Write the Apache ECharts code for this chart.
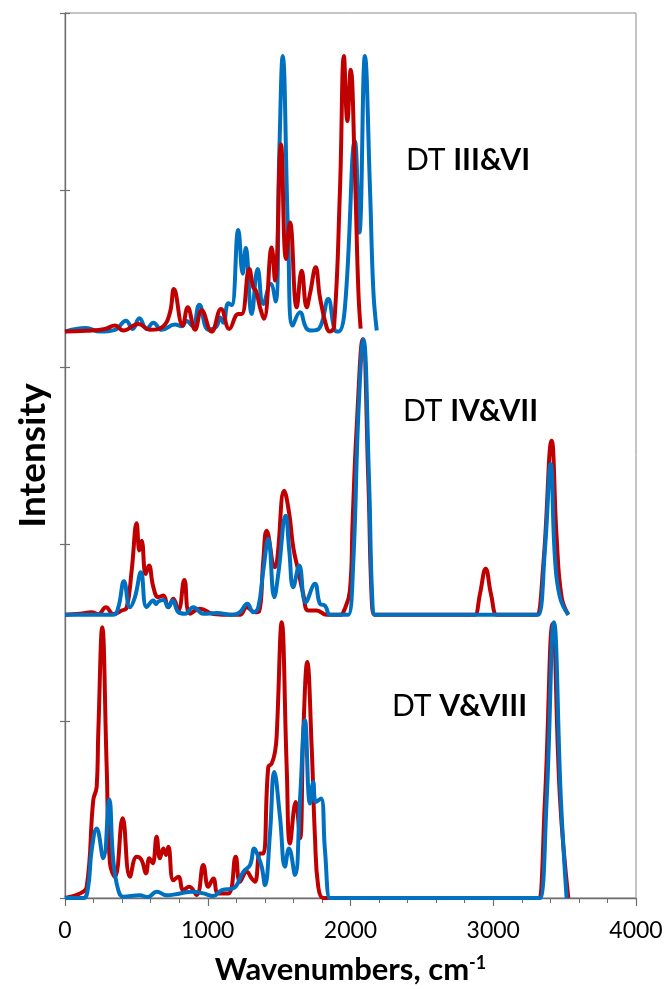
<!DOCTYPE html>
<html>
<head>
<meta charset="utf-8">
<script src="https://cdn.jsdelivr.net/npm/echarts@6/dist/echarts.min.js"></script>
<style>
  html, body { margin: 0; padding: 0; background: #fff; }
  #chart { width: 666px; height: 989px; }
</style>
</head>
<body>
<div id="chart"></div>
<script>
// Simulated IR spectra: [wavenumber (cm-1), relative intensity] for each pair of structures.
// Each pair is drawn on its own baseline, stacked by the offsets below.
const stackOffsets = { bottom: 0, middle: 1.6, top: 3.2 };
const xTicks = [0, 1000, 2000, 3000, 4000];
const pairLabels = [
  { plain: 'DT ', bold: 'III&VI' },
  { plain: 'DT ', bold: 'IV&VII' },
  { plain: 'DT ', bold: 'V&VIII' }
];

const topRed = [
  [0,0],[150,0.005],[280,0.015],[350,0.034],[409,0.006],[514,0.043],[595,0.01],[689,0.03],[736,0.11],
  [763,0.24],[824,0.034],[860,0.137],[911,0.011],[957,0.12],[1027,0],[1093,0.128],[1151,0.015],
  [1214,0.1],[1238,0.1],[1291,0.353],[1319,0.25],[1338,0.23],[1366,0.137],[1394,0.072],[1448,0.475],
  [1471,0.288],[1513,1.059],[1548,0.41],[1576,0.617],[1623,0.137],[1658,0.344],[1693,0.137],[1716,0.213],
  [1756,0.363],[1786,0.193],[1833,0.024],[1856,0],[1885,0.03],[1926,0.795],[1954,1.557],[1978,1.19],
  [2001,1.48],[2031,0.889],[2055,0.231],[2071,0.017]
];
const topBlue = [
  [0,0],[147,0.02],[245,0],[350,0.01],[427,0.062],[474,0.015],[521,0.075],[572,0.015],[619,0.05],
  [677,0.01],[771,0.04],[817,0.03],[852,0.06],[894,0.03],[941,0.152],[1004,0.011],[1062,0.03],
  [1086,0.08],[1109,0.05],[1144,0.16],[1168,0.15],[1214,0.574],[1245,0.327],[1266,0.472],[1308,0.1],
  [1350,0.354],[1389,0.156],[1441,0.27],[1475,0.17],[1501,1.0],[1525,1.557],[1564,0.513],[1595,0.034],
  [1646,0.109],[1690,0.02],[1728,0.006],[1786,0.024],[1844,0.184],[1891,0.006],[1915,0],[1961,0.137],
  [2031,1.077],[2062,0.56],[2101,1.557],[2137,0.795],[2160,0.231],[2184,0.006]
];

const middleRed = [
  [0,0],[105,0.006],[187,0.015],[233,0.003],[287,0.043],[338,0.004],[397,0.024],[432,0.04],[467,0.25],
  [502,0.517],[521,0.363],[537,0.419],[565,0.231],[588,0.278],[619,0.156],[654,0.1],[689,0.109],
  [724,0.043],[759,0.09],[794,0.024],[836,0.197],[876,0.006],[946,0.034],[1039,0.005],[1179,0],
  [1226,0],[1273,0.043],[1331,0.015],[1360,0.02],[1389,0.306],[1413,0.475],[1471,0.268],[1487,0.316],
  [1536,0.701],[1571,0.57],[1599,0.381],[1634,0.25],[1669,0.118],[1704,0.024],[1763,0.024],[1833,0],
  [1926,0],[1950,0.015],[1996,0.137],[2015,0.532],[2042,1.04],[2085,1.557],[2125,0.757],[2148,0.1],
  [2168,0],[2190,0],[2850,0],[2872,0],[2907,0.118],[2947,0.26],[2984,0.118],[3024,0],[3050,0],
  [3280,0],[3304,0],[3351,0.288],[3409,0.983],[3444,0.438],[3479,0.1],[3526,0]
];
const middleBlue = [
  [0,0],[338,0],[373,0.04],[413,0.19],[455,0.043],[490,0.1],[532,0.24],[572,0.043],[619,0.081],
  [637,0.06],[654,0.075],[689,0.083],[724,0.043],[754,0.081],[794,0.015],[841,0.006],[899,0.043],
  [969,0.006],[1062,0.01],[1179,0],[1226,0.015],[1277,0.062],[1319,0.015],[1354,0.043],[1389,0.25],
  [1424,0.429],[1466,0.1],[1494,0.231],[1546,0.56],[1571,0.363],[1599,0.156],[1641,0.278],[1686,0.071],
  [1751,0.175],[1786,0.062],[1821,0.052],[1856,0],[1880,0],[1960,0],[1985,0],[2019,0.288],[2055,1.134],
  [2090,1.557],[2130,0.757],[2152,0.1],[2172,0],[2195,0],[3290,0],[3316,0],[3363,0.381],[3402,0.852],
  [3432,0.325],[3467,0.1],[3526,0]
];

const bottomRed = [
  [0,0],[105,0.026],[152,0.064],[198,0.553],[222,0.628],[233,0.929],[261,1.53],[292,0.74],[315,0.196],
  [350,0.12],[404,0.45],[455,0.12],[502,0.233],[537,0.214],[567,0.139],[591,0.224],[614,0.196],
  [642,0.346],[665,0.224],[689,0.28],[708,0.243],[724,0.289],[759,0.1],[794,0.12],[829,0.045],
  [871,0.064],[922,0.017],[969,0.186],[1004,0.064],[1039,0.11],[1074,0.026],[1144,0.026],[1196,0.233],
  [1226,0.092],[1273,0.148],[1308,0.11],[1331,0.092],[1366,0.252],[1389,0.252],[1424,0.74],[1448,0.76],
  [1471,0.825],[1483,0.919],[1518,1.558],[1553,0.74],[1576,0.308],[1616,0.543],[1646,0.337],[1669,0.929],
  [1697,1.333],[1728,0.853],[1751,0.346],[1774,0.064],[1809,0],[1830,0],[3290,0],[3316,0],[3362,0.553],
  [3416,1.549],[3468,0.553],[3526,0]
];
const bottomBlue = [
  [0,0],[128,0],[160,0.05],[187,0.271],[222,0.393],[268,0.224],[310,0.557],[338,0.214],[373,0.045],
  [408,0.007],[525,0.015],[580,0.005],[642,0.036],[712,0.015],[806,0.026],[887,0.036],[969,0.026],
  [1039,0.011],[1098,0.045],[1179,0.055],[1249,0.148],[1296,0.186],[1326,0.28],[1354,0.233],[1378,0.177],
  [1401,0.073],[1436,0.365],[1466,0.712],[1506,0.459],[1541,0.177],[1569,0.28],[1611,0.13],[1646,0.553],
  [1681,1.004],[1716,0.534],[1739,0.656],[1758,0.543],[1793,0.562],[1821,0.271],[1856,0],[1880,0],
  [3300,0],[3327,0],[3374,0.553],[3425,1.558],[3474,0.553],[3514,0]
];

const RED = '#C00000';
const BLUE = '#0070C0';
const AXIS = '#6e6e6e';
const FONT = 'Lato, "Open Sans", sans-serif';

function spectrum(name, points, offset, color) {
  return {
    name: name,
    type: 'line',
    data: points.map(p => [p[0], p[1] + offset]),
    showSymbol: false,
    smooth: 0.45,
    lineStyle: { color: color, width: 4 },
    emphasis: { disabled: true },
    silent: true
  };
}

const chart = echarts.init(document.getElementById('chart'), null, { renderer: 'canvas' });

// label anchor positions (pixels) for the three pair captions
const captionAnchors = [[406, 160], [403, 411], [392, 706]];

chart.setOption({
  animation: false,
  grid: {
    left: 65, right: 30, top: 13, bottom: 91,
    outerBoundsMode: 'none',
    show: true, borderColor: '#8a8a8a', borderWidth: 1, backgroundColor: 'transparent'
  },
  xAxis: {
    type: 'value', min: xTicks[0], max: xTicks[xTicks.length - 1], interval: xTicks[1] - xTicks[0],
    axisLine: { show: true, lineStyle: { color: AXIS, width: 1.3 } },
    axisTick: { show: true, length: 8, lineStyle: { color: AXIS, width: 1.2 } },
    minorTick: { show: true, splitNumber: 5, length: 5, lineStyle: { color: AXIS, width: 1 } },
    splitLine: { show: false },
    axisLabel: { fontFamily: FONT, fontSize: 23, color: '#000', margin: 21, formatter: v => String(v) },
    name: '{t|Wavenumbers, cm}{s|-1}',
    nameLocation: 'middle',
    nameGap: 56,
    nameTextStyle: {
      rich: {
        t: { fontFamily: FONT, fontSize: 31, fontWeight: 'bold', color: '#000' },
        s: { fontFamily: FONT, fontSize: 18, fontWeight: 'bold', color: '#000', verticalAlign: 'top' }
      }
    }
  },
  yAxis: [
    {
      type: 'value', min: 0, max: 5, interval: 1,
      axisLine: { show: true, lineStyle: { color: AXIS, width: 1.3 } },
      axisTick: { show: true, length: 5, lineStyle: { color: AXIS, width: 1.2 } },
      axisLabel: { show: false },
      splitLine: { show: false },
      name: 'Intensity',
      nameLocation: 'middle',
      nameGap: 13,
      nameTextStyle: { fontFamily: FONT, fontSize: 37, fontWeight: 'bold', color: '#000' }
    },
    {
      type: 'value', min: 0, max: 5, interval: 1, position: 'left',
      axisLine: { show: false },
      axisTick: { show: true, inside: true, length: 5, lineStyle: { color: AXIS, width: 1.2 } },
      axisLabel: { show: false },
      splitLine: { show: false }
    }
  ],
  graphic: pairLabels.map((lab, i) => ({
    type: 'text',
    x: captionAnchors[i][0],
    y: captionAnchors[i][1],
    silent: true,
    style: {
      text: '{r|' + lab.plain + '}{b|' + lab.bold + '}',
      align: 'left',
      verticalAlign: 'middle',
      rich: {
        r: { fontFamily: FONT, fontSize: 30, color: '#000' },
        b: { fontFamily: FONT, fontSize: 30, fontWeight: 'bold', color: '#000' }
      }
    }
  })),
  series: [
    spectrum('V&VIII red', bottomRed, stackOffsets.bottom, RED),
    spectrum('V&VIII blue', bottomBlue, stackOffsets.bottom, BLUE),
    spectrum('IV&VII red', middleRed, stackOffsets.middle, RED),
    spectrum('IV&VII blue', middleBlue, stackOffsets.middle, BLUE),
    spectrum('III&VI blue', topBlue, stackOffsets.top, BLUE),
    spectrum('III&VI red', topRed, stackOffsets.top, RED)
  ]
});
</script>
</body>
</html>
